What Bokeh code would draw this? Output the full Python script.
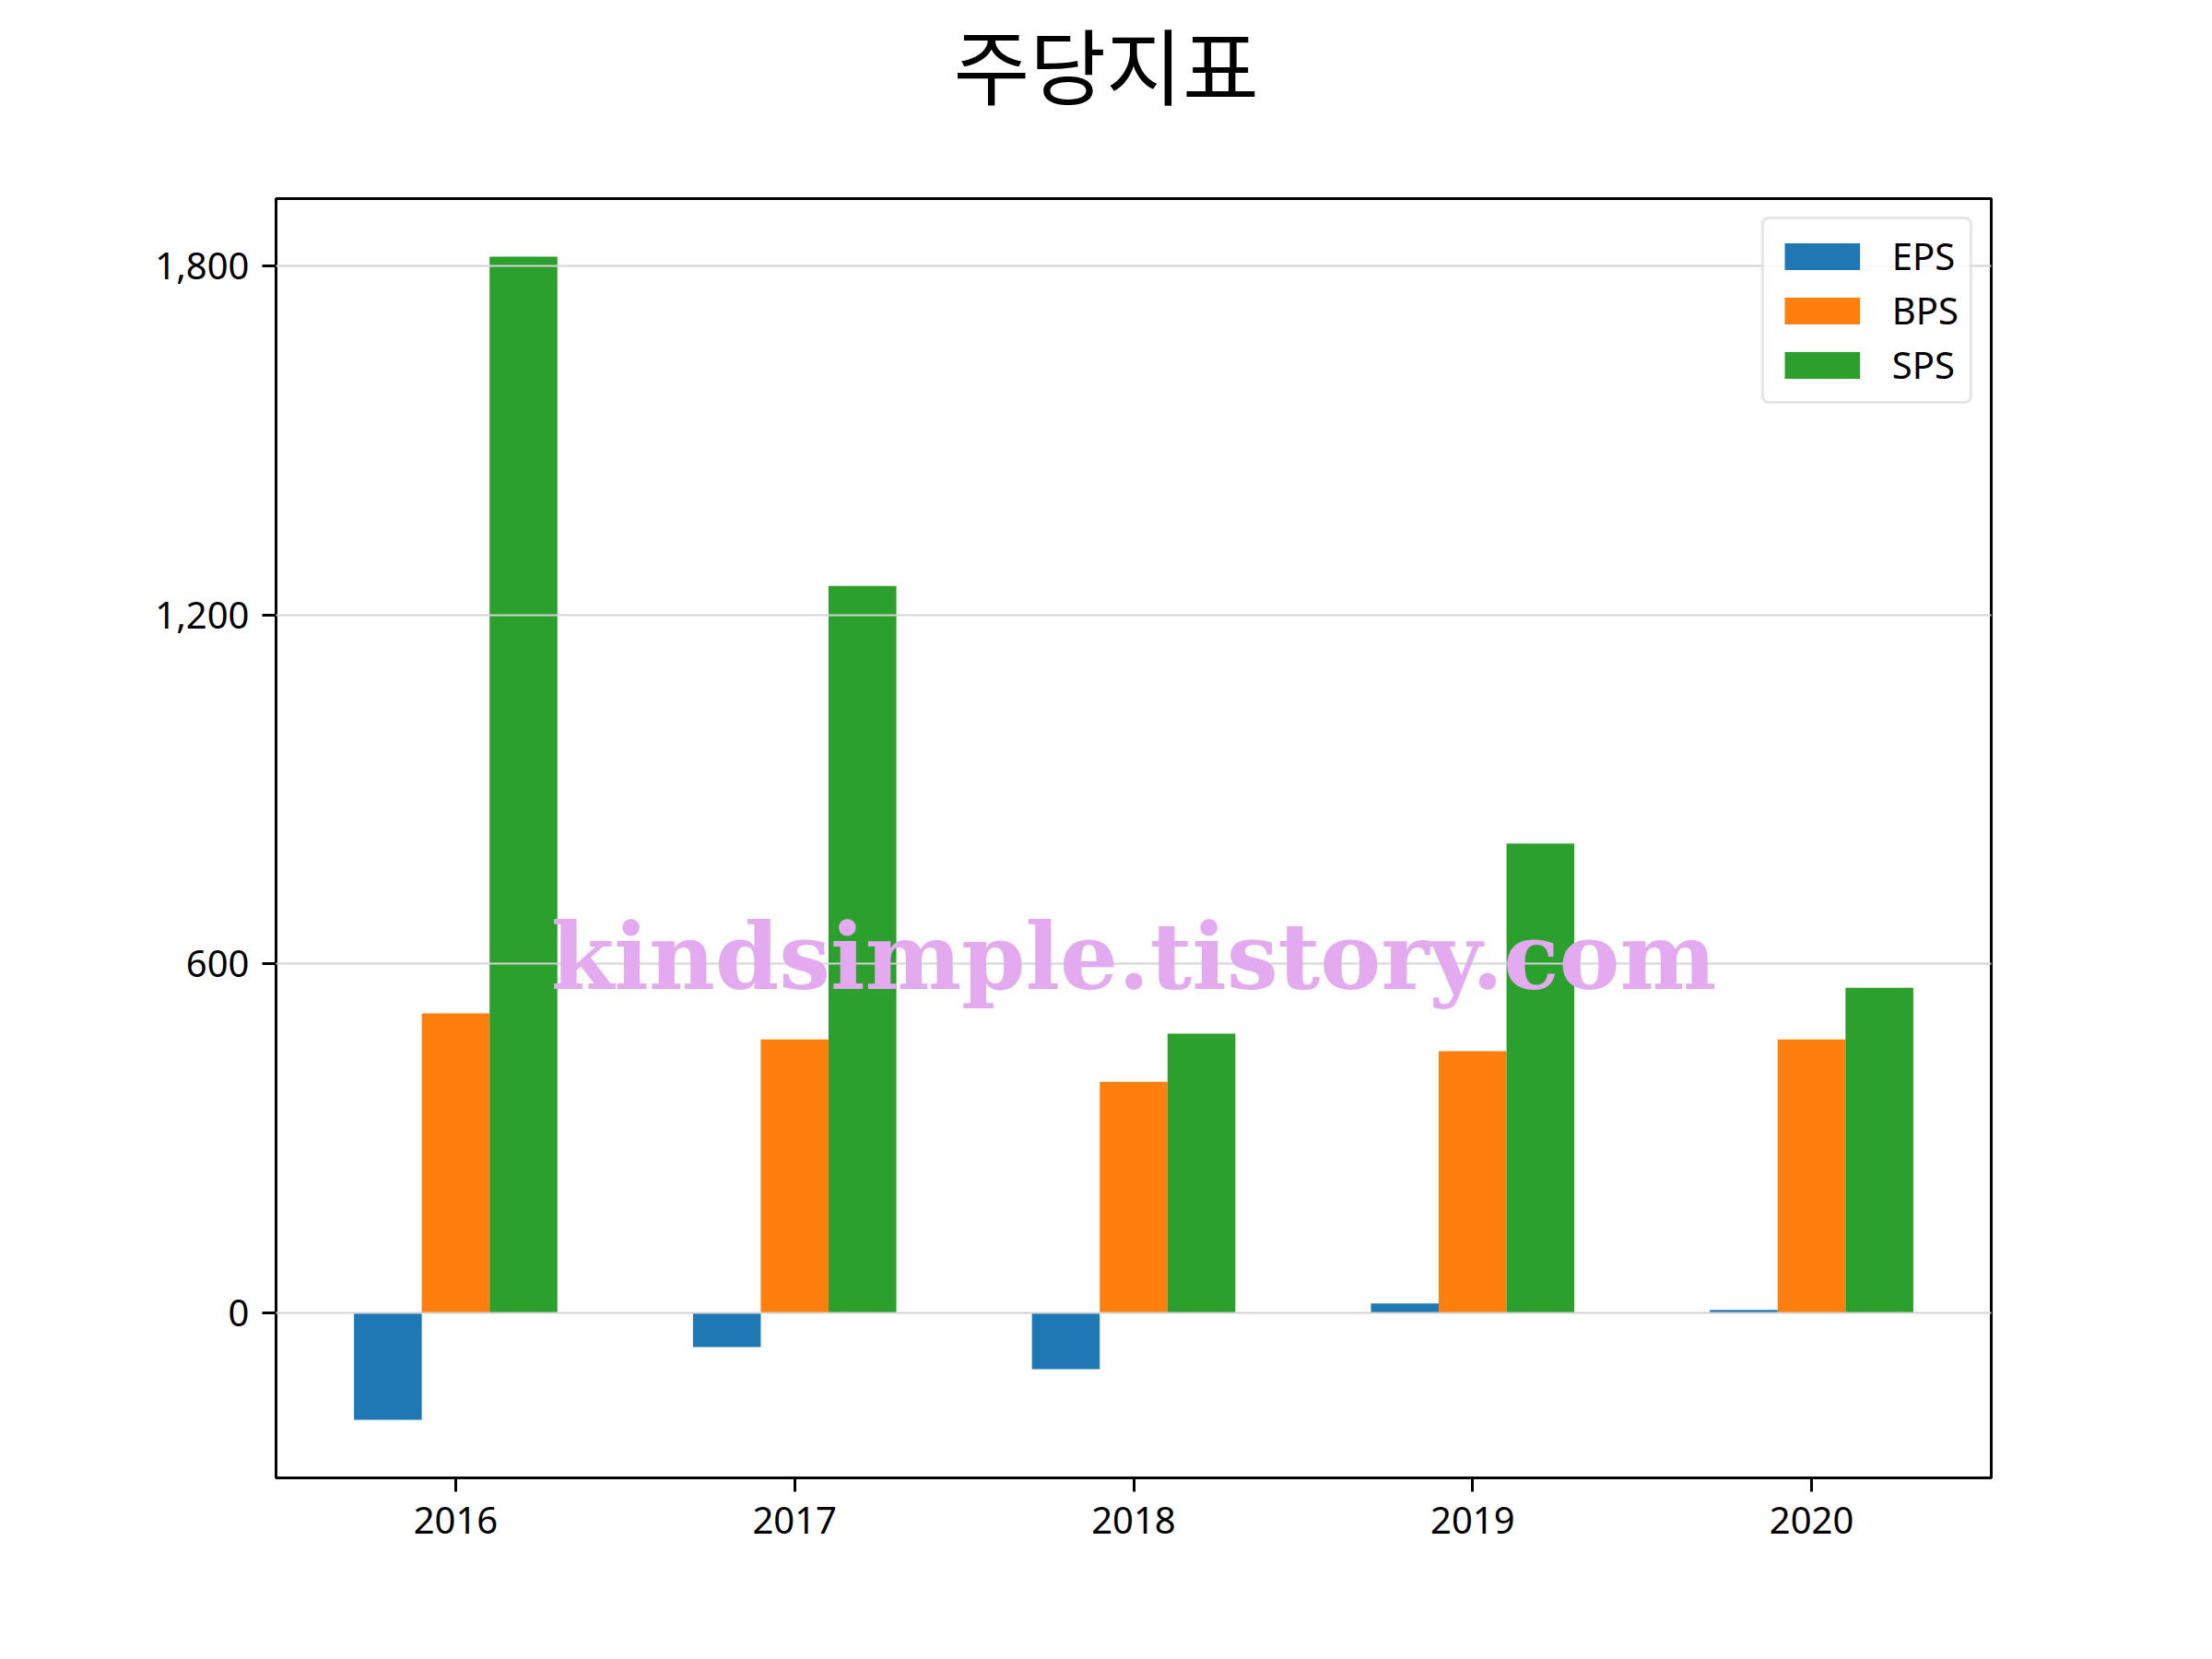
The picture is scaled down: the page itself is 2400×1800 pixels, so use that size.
from bokeh.plotting import figure
from bokeh.models import ColumnDataSource, FixedTicker, NumeralTickFormatter, Range1d, Label, Title
from bokeh.transform import dodge
from bokeh.embed import file_html
from bokeh.resources import INLINE

# ---- data ----
years = [2016, 2017, 2018, 2019, 2020]
eps = [-184, -59, -97, 16, 5]
bps = [515, 470, 397, 450, 470]
sps = [1816, 1250, 480, 807, 559]
series_names = ["EPS", "BPS", "SPS"]
series_colors = ["#1f77b4", "#ff7f0e", "#2ca02c"]
y_ticks = [0, 600, 1200, 1800]
title_text = "주당지표"
watermark = "kindsimple.tistory.com"

bar_w = 0.2
src = ColumnDataSource(dict(year=years, EPS=eps, BPS=bps, SPS=sps))

# matplotlib-like 5% margins
xlo, xhi = min(years) - 1.5 * bar_w, max(years) + 1.5 * bar_w
xm = 0.05 * (xhi - xlo)
allv = eps + bps + sps
ylo, yhi = min(min(allv), 0), max(allv)
ym = 0.05 * (yhi - ylo)

W, H = 2384, 1784
p = figure(width=W, height=H, output_backend="svg", toolbar_location=None, title=None,
           x_range=Range1d(xlo - xm, xhi + xm), y_range=Range1d(ylo - ym, yhi + ym),
           min_border_left=299, min_border_right=224, min_border_top=209, min_border_bottom=181)

# spacer between frame and title (nearest to frame), then the real title
spacer = Title(text=" ", text_font_size="1px", standoff=80)
p.add_layout(spacer, "above")
main_title = Title(text=title_text, align="left", offset=735, standoff=0,
                   text_font="Noto Sans CJK KR", text_font_size="90px",
                   text_font_style="normal", text_color="black")
p.add_layout(main_title, "above")

offsets = [-bar_w, 0.0, bar_w]
for name, col, off in zip(series_names, series_colors, offsets):
    p.vbar(x=dodge("year", off), top=name, bottom=0, width=bar_w, source=src,
           fill_color=col, line_color=None, legend_label=name)

# grid on top of bars
p.xgrid.visible = False
p.ygrid.ticker = FixedTicker(ticks=y_ticks)
p.ygrid.grid_line_color = "#d3d3d3"
p.ygrid.grid_line_width = 2
p.ygrid.level = "guide"

p.outline_line_color = "black"
p.outline_line_width = 3
p.outline_line_alpha = 1.0

for ax in (p.xaxis[0], p.yaxis[0]):
    ax.axis_line_color = None
    ax.major_tick_in = 0
    ax.major_tick_out = 15
    ax.major_tick_line_width = 3
    ax.major_tick_line_color = "black"
    ax.minor_tick_line_color = None
    ax.major_label_text_font = "Noto Sans"
    ax.major_label_text_font_size = "40px"
    ax.major_label_text_color = "black"

p.xaxis.ticker = FixedTicker(ticks=years)
p.xaxis.major_label_standoff = 16
p.yaxis.ticker = FixedTicker(ticks=y_ticks)
p.yaxis.formatter = NumeralTickFormatter(format="0,0")
p.yaxis.major_label_standoff = 14

wm = Label(x=sum(years) / len(years), y=612, text=watermark, text_align="center",
           text_baseline="middle", text_font="DejaVu Serif", text_font_style="bold",
           text_font_size="99px", text_color="#e4aaf0")
p.add_layout(wm)

lg = p.legend[0]
lg.location = "top_right"
lg.margin = 20
lg.padding = 12
lg.spacing = 4
lg.glyph_width = 102
lg.glyph_height = 36
lg.label_height = 48
lg.label_standoff = 25
lg.label_text_font = "Noto Sans"
lg.label_text_font_size = "40px"
lg.label_text_color = "black"
lg.border_line_color = "#cccccc"
lg.border_line_width = 3
lg.background_fill_alpha = 0.8
if "border_radius" in lg.properties():
    lg.border_radius = 8

open("out.html", "w").write(file_html(p, INLINE))
